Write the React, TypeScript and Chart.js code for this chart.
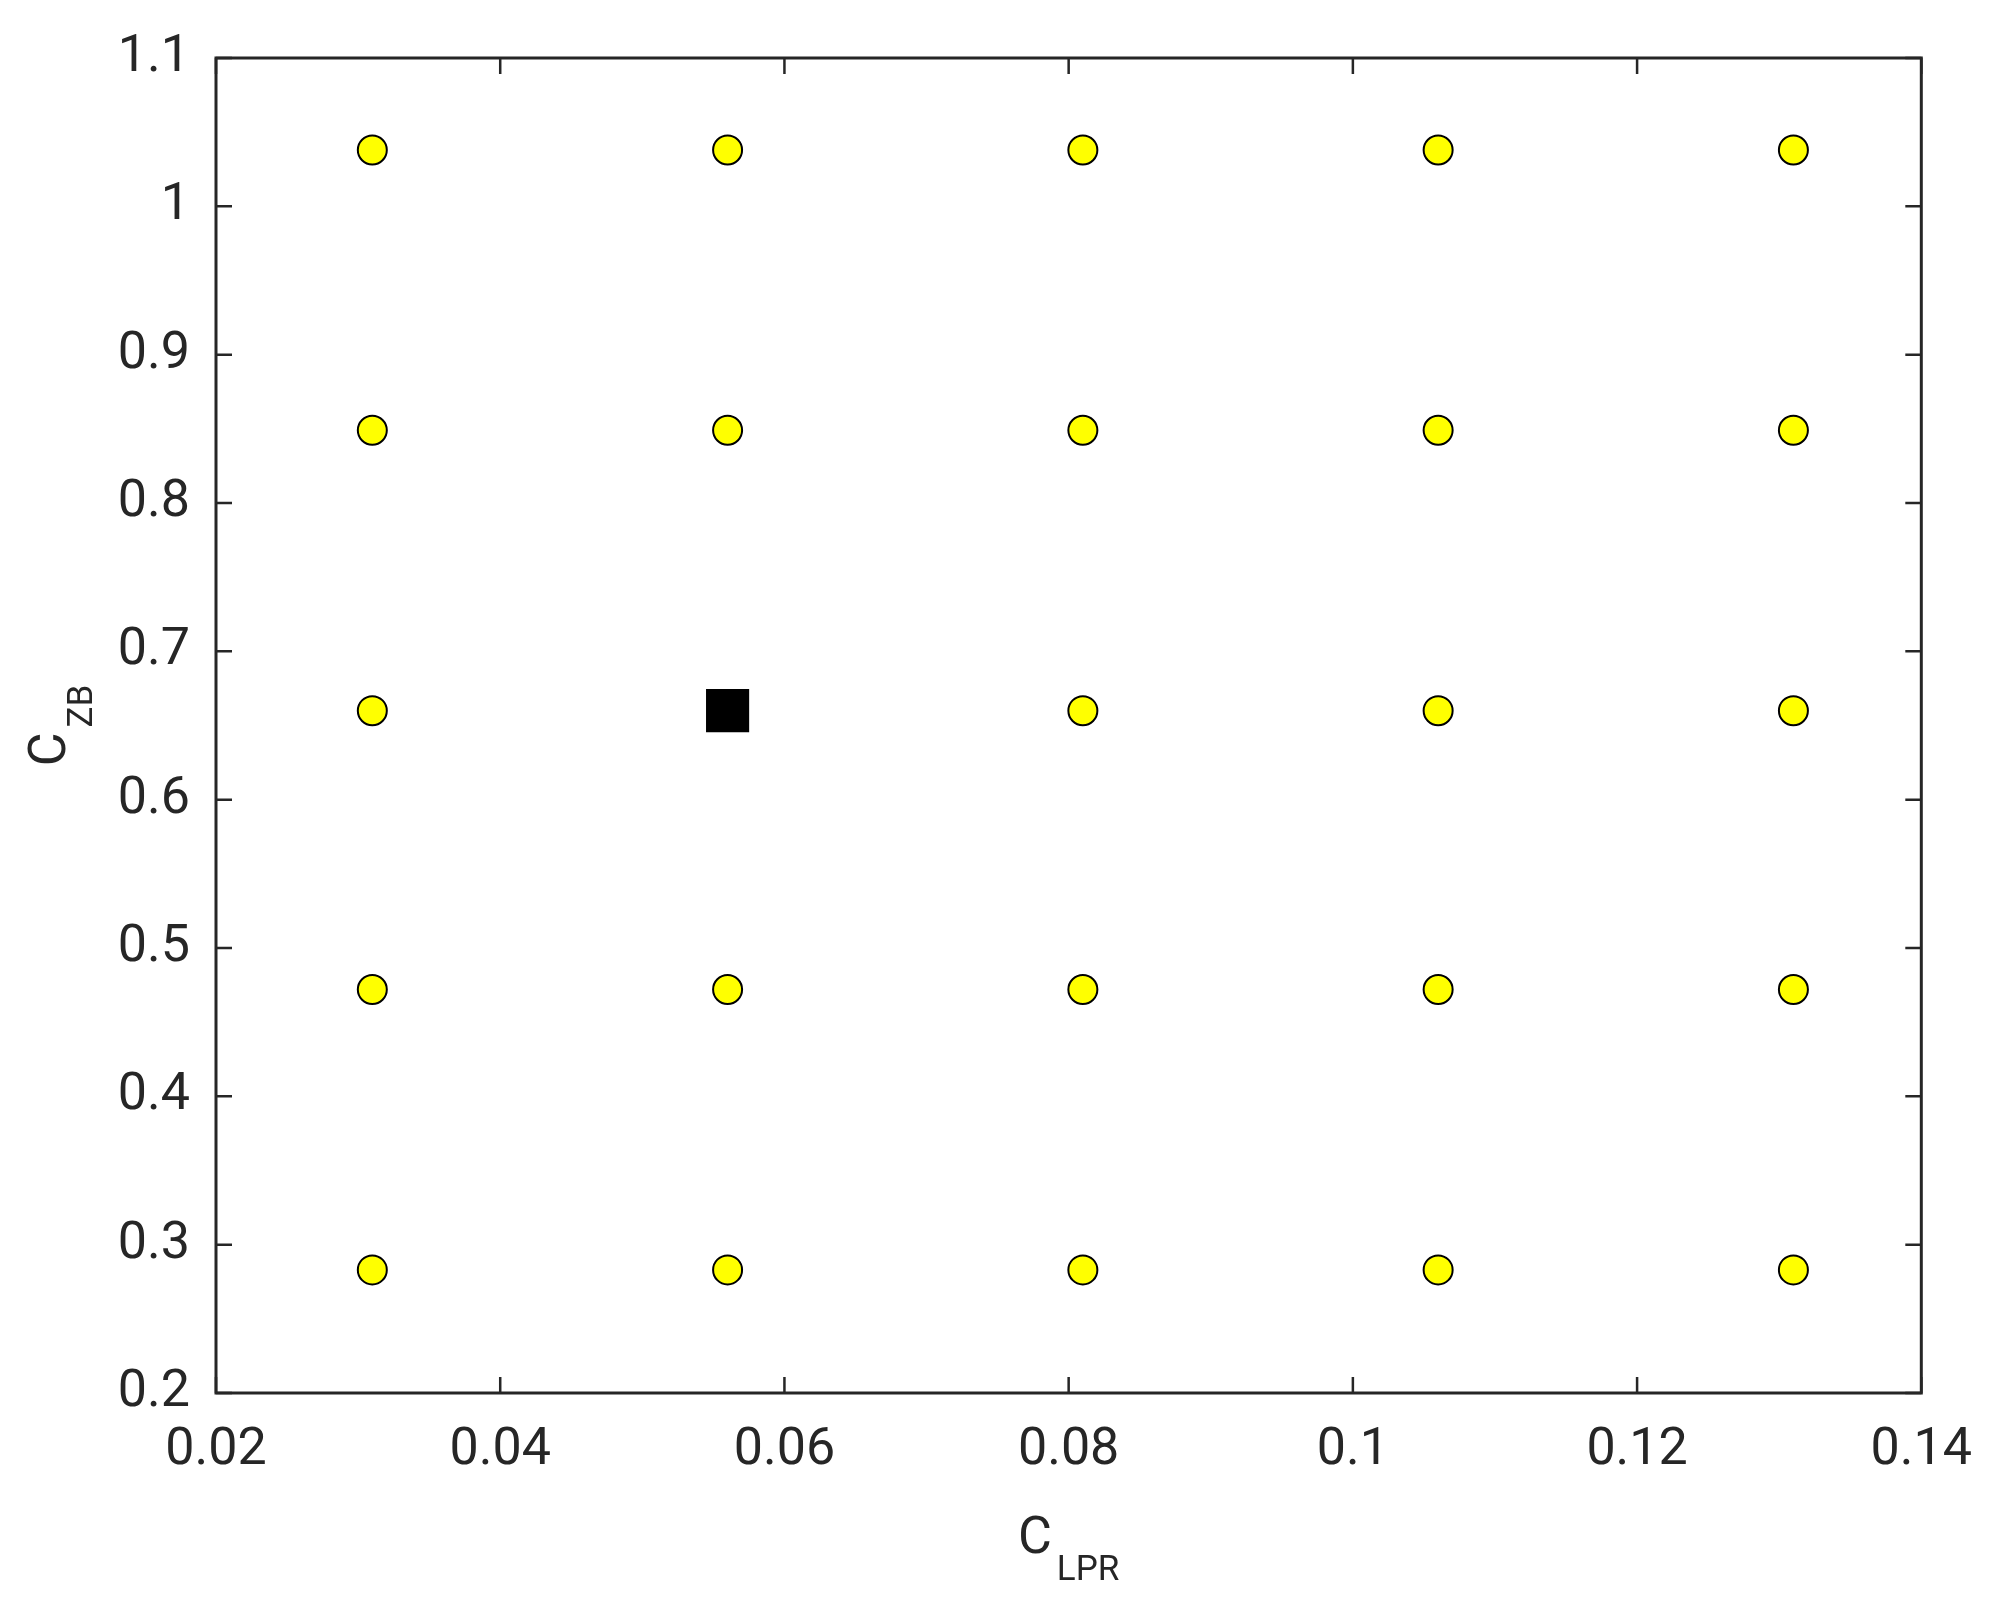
import React, { useEffect, useRef } from "react";
import Chart from "chart.js/auto";

// design grid levels (factor settings)
const cLprLevels = [0.031, 0.056, 0.081, 0.106, 0.131];
const cZbLevels = [0.283, 0.472, 0.66, 0.849, 1.038];

// the selected point (black square)
const optimumCLpr = [0.056];
const optimumCZb = [0.66];

const xTickValues = [0.02, 0.04, 0.06, 0.08, 0.1, 0.12, 0.14];
const yTickValues = [0.2, 0.3, 0.4, 0.5, 0.6, 0.7, 0.8, 0.9, 1, 1.1];

const xTitle = ["C", "LPR"];
const yTitle = ["C", "ZB"];

const INK = "#262626";
const FONT = "Roboto";
const TICK_LEN = 16;

const fmt = (v: number) => String(Number(v.toFixed(4)));

const boxPlugin = {
  id: "matlabBox",
  afterDraw(chart: any) {
    const { ctx, chartArea, scales } = chart;
    const { left, right, top, bottom } = chartArea;
    const xs = scales.x;
    const ys = scales.y;
    ctx.save();
    ctx.strokeStyle = INK;
    ctx.lineWidth = 3;
    ctx.strokeRect(left, top, right - left, bottom - top);

    // inward ticks on all four sides
    ctx.lineWidth = 2.5;
    ctx.beginPath();
    xs.ticks.forEach((t: any) => {
      const px = xs.getPixelForValue(t.value);
      ctx.moveTo(px, bottom);
      ctx.lineTo(px, bottom - TICK_LEN);
      ctx.moveTo(px, top);
      ctx.lineTo(px, top + TICK_LEN);
    });
    ys.ticks.forEach((t: any) => {
      const py = ys.getPixelForValue(t.value);
      ctx.moveTo(left, py);
      ctx.lineTo(left + TICK_LEN, py);
      ctx.moveTo(right, py);
      ctx.lineTo(right - TICK_LEN, py);
    });
    ctx.stroke();

    // axis titles with subscripts
    ctx.fillStyle = INK;
    ctx.textBaseline = "alphabetic";
    ctx.textAlign = "left";
    const mainFont = `52px ${FONT}`;
    const subFont = `35px ${FONT}`;
    const gap = 5;

    ctx.font = mainFont;
    const wxC = ctx.measureText(xTitle[0]).width;
    ctx.font = subFont;
    const wxS = ctx.measureText(xTitle[1]).width;
    let sx = (left + right) / 2 - (wxC + gap + wxS) / 2;
    ctx.font = mainFont;
    ctx.fillText(xTitle[0], sx, bottom + 160);
    ctx.font = subFont;
    ctx.fillText(xTitle[1], sx + wxC + gap, bottom + 187);

    ctx.font = mainFont;
    const wyC = ctx.measureText(yTitle[0]).width;
    ctx.font = subFont;
    const wyS = ctx.measureText(yTitle[1]).width;
    ctx.translate(left - 151, (top + bottom) / 2);
    ctx.rotate(-Math.PI / 2);
    sx = -(wyC + gap + wyS) / 2;
    ctx.font = mainFont;
    ctx.fillText(yTitle[0], sx, 0);
    ctx.font = subFont;
    ctx.fillText(yTitle[1], sx + wyC + gap, 27);
    ctx.restore();
  },
};

function DesignChart() {
  const canvasRef = useRef<HTMLCanvasElement>(null);

  useEffect(() => {
    const canvas = canvasRef.current;
    if (!canvas) return;

    const gridPoints = cLprLevels.flatMap((x) => cZbLevels.map((y) => ({ x, y })));
    const optimum = optimumCLpr.map((x, i) => ({ x, y: optimumCZb[i] }));

    const chart = new Chart(canvas, {
      type: "scatter",
      data: {
        datasets: [
          {
            label: "optimum",
            data: optimum,
            order: 0,
            pointStyle: "rect",
            pointRadius: 30.5,
            backgroundColor: "#000000",
            borderColor: "#000000",
            borderWidth: 0,
          },
          {
            label: "design points",
            data: gridPoints,
            order: 1,
            pointStyle: "circle",
            pointRadius: 14.5,
            backgroundColor: "#ffff00",
            borderColor: "#000000",
            borderWidth: 2,
          },
        ],
      },
      options: {
        responsive: false,
        devicePixelRatio: 1,
        animation: false,
        layout: { padding: { left: 0, top: 58, right: 73, bottom: 0 } },
        plugins: {
          legend: { display: false },
          tooltip: { enabled: false },
        },
        scales: {
          x: {
            type: "linear",
            min: 0.02,
            max: 0.14,
            afterBuildTicks: (s: any) => {
              s.ticks = xTickValues.map((value) => ({ value }));
            },
            afterFit: (s: any) => {
              s.height = 209;
            },
            grid: { display: false, drawTicks: false },
            border: { display: false },
            ticks: {
              padding: 27,
              color: INK,
              font: { family: FONT, size: 52 },
              maxRotation: 0,
              callback: (v: any) => fmt(Number(v)),
            },
          },
          y: {
            type: "linear",
            min: 0.2,
            max: 1.1,
            afterBuildTicks: (s: any) => {
              s.ticks = yTickValues.map((value) => ({ value }));
            },
            afterFit: (s: any) => {
              s.width = 216;
            },
            grid: { display: false, drawTicks: false },
            border: { display: false },
            ticks: {
              padding: 26,
              color: INK,
              font: { family: FONT, size: 52 },
              callback: (v: any) => fmt(Number(v)),
            },
          },
        },
      },
      plugins: [boxPlugin],
    } as any);

    return () => {
      chart.destroy();
    };
  }, []);

  return (
    <canvas
      ref={canvasRef}
      width={1999}
      height={1602}
      style={{ width: "1999px", height: "1602px", display: "block" }}
    />
  );
}

export default function App() {
  return (
    <div style={{ position: "absolute", left: 0, top: 0, width: 1999, height: 1602, background: "#fff" }}>
      <DesignChart />
    </div>
  );
}
